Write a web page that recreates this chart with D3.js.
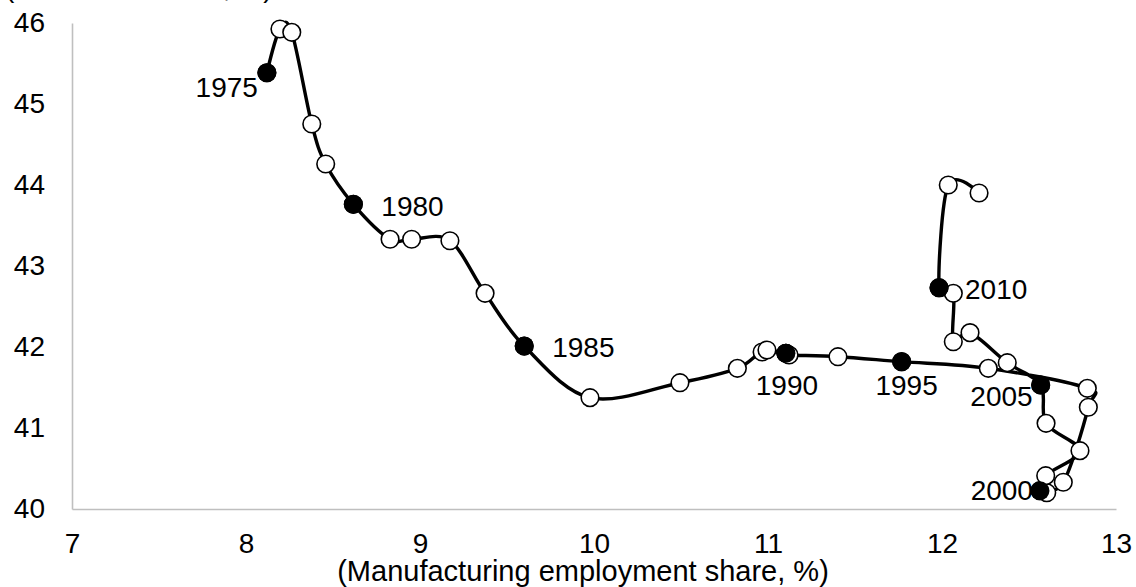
<!DOCTYPE html>
<html>
<head>
<meta charset="utf-8">
<script src="https://cdn.jsdelivr.net/npm/d3@7"></script>
<style>
  body { margin: 0; background: #fff; }
  svg { display: block; font-family: "Liberation Sans", Arial, sans-serif; }
</style>
</head>
<body>
<svg id="chart"></svg>
<script>
// annual series: manufacturing employment share (x) vs. share on y axis
const years = [1975, 1976, 1977, 1978, 1979, 1980, 1981, 1982, 1983, 1984,
  1985, 1986, 1987, 1988, 1989, 1990, 1991, 1992, 1993, 1994,
  1995, 1996, 1997, 1998, 1999, 2000, 2001, 2002, 2003, 2004,
  2005, 2006, 2007, 2008, 2009, 2010, 2011, 2012];
const mfgShare = [8.12, 8.195, 8.263, 8.378, 8.458, 8.617, 8.828, 8.952, 9.172, 9.374,
  9.599, 9.977, 10.494, 10.824, 10.966, 11.103, 10.994, 11.103, 11.121, 11.402,
  11.768, 12.266, 12.835, 12.841, 12.697, 12.563, 12.602, 12.596, 12.793, 12.598,
  12.567, 12.375, 12.161, 12.065, 12.065, 11.983, 12.036, 12.213];
const yShare = [45.386, 45.926, 45.885, 44.753, 44.259, 43.762, 43.33, 43.33, 43.312, 42.663,
  42.012, 41.374, 41.559, 41.737, 41.938, 41.922, 41.963, 41.922, 41.901, 41.88,
  41.819, 41.737, 41.49, 41.256, 40.33, 40.226, 40.201, 40.411, 40.72, 41.058,
  41.531, 41.806, 42.177, 42.065, 42.663, 42.732, 44.0, 43.901];
const labelYears = [1975, 1980, 1985, 1990, 1995, 2000, 2005, 2010];
const xTicks = [7, 8, 9, 10, 11, 12, 13];
const yTicks = [40, 41, 42, 43, 44, 45, 46];

const width = 1136, height = 587;
const margin = { top: 23, right: 20, bottom: 78, left: 72 };

const svg = d3.select("#chart").attr("width", width).attr("height", height);

const x = d3.scaleLinear().domain([7, 13]).range([margin.left, 1116]);
const y = d3.scaleLinear().domain([40, 46]).range([height - margin.bottom, margin.top]);

const data = years.map((yr, i) => ({ year: yr, x: mfgShare[i], y: yShare[i] }));

// axes: gray lines, no tick marks
const xAxis = svg.append("g")
    .attr("transform", `translate(0,${y(40)})`)
    .call(d3.axisBottom(x).tickValues(xTicks).tickFormat(d3.format("d"))
        .tickSize(0).tickPadding(24));
const yAxis = svg.append("g")
    .attr("transform", `translate(${x(7)},0)`)
    .call(d3.axisLeft(y).tickValues(yTicks).tickFormat(d3.format("d"))
        .tickSize(0).tickPadding(27));

[xAxis, yAxis].forEach(a => {
  a.select(".domain").attr("stroke", "#bfbfbf").attr("stroke-width", 1.6);
  a.selectAll("text")
      .attr("font-size", 28)
      .attr("font-family", "Liberation Sans, Arial, sans-serif")
      .attr("fill", "#000");
});

// axis titles
svg.append("text")
    .attr("x", 583)
    .attr("y", 581)
    .attr("text-anchor", "middle")
    .attr("font-size", 29)
    .text("(Manufacturing employment share, %)");

// y title sits mostly above the visible area in the source
svg.append("text")
    .attr("x", 5)
    .attr("y", -3)
    .attr("font-size", 28)
    .text("(Labor cost share, %)");

// smoothed connecting line
const line = d3.line()
    .x(d => x(d.x))
    .y(d => y(d.y))
    .curve(d3.curveCatmullRom.alpha(0));

svg.append("path")
    .datum(data)
    .attr("d", line)
    .attr("fill", "none")
    .attr("stroke", "#000")
    .attr("stroke-width", 3.4);

// open markers for every year
svg.append("g")
  .selectAll("circle")
  .data(data)
  .join("circle")
    .attr("cx", d => x(d.x))
    .attr("cy", d => y(d.y))
    .attr("r", 8.8)
    .attr("fill", "#fff")
    .attr("stroke", "#000")
    .attr("stroke-width", 1.6);

// filled markers every five years
const marked = data.filter(d => labelYears.includes(d.year));
svg.append("g")
  .selectAll("circle")
  .data(marked)
  .join("circle")
    .attr("cx", d => x(d.x))
    .attr("cy", d => y(d.y))
    .attr("r", 9.5)
    .attr("fill", "#000");

// label placement around each filled point
const labelPos = {
  1975: { dx: -9, dy: 24, anchor: "end" },
  1980: { dx: 28, dy: 12, anchor: "start" },
  1985: { dx: 28, dy: 11, anchor: "start" },
  1990: { dx: 1, dy: 42, anchor: "middle" },
  1995: { dx: 5, dy: 33, anchor: "middle" },
  2000: { dx: -7, dy: 9, anchor: "end" },
  2005: { dx: -8, dy: 21, anchor: "end" },
  2010: { dx: 26, dy: 11, anchor: "start" }
};

svg.append("g")
  .selectAll("text")
  .data(marked)
  .join("text")
    .attr("x", d => x(d.x) + labelPos[d.year].dx)
    .attr("y", d => y(d.y) + labelPos[d.year].dy)
    .attr("text-anchor", d => labelPos[d.year].anchor)
    .attr("font-size", 28)
    .text(d => d.year);
</script>
</body>
</html>
